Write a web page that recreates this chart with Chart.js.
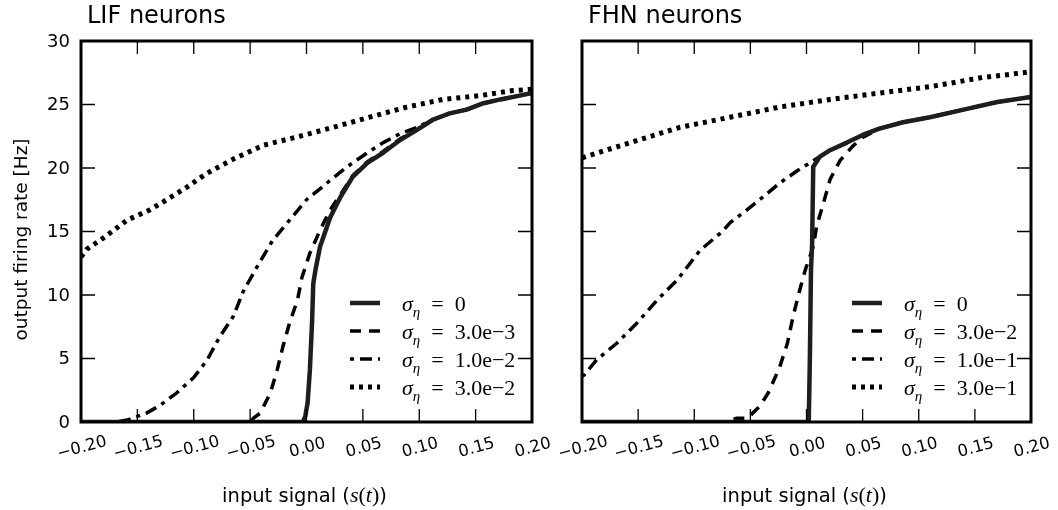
<!DOCTYPE html>
<html lang="en">
  <head>
    <meta charset="UTF-8" />
    <title>Output firing rate vs input signal</title>
    <style>
      body {
        margin: 0;
        background: #fff;
      }
      canvas {
        position: absolute;
        top: 0;
      }
      #lifChart {
        left: 0;
      }
      #fhnChart {
        left: 545px;
      }
    </style>
  </head>
  <body>
    <canvas id="lifChart" width="570" height="510"></canvas>
    <canvas id="fhnChart" width="513" height="510"></canvas>
    <script src="https://cdn.jsdelivr.net/npm/chart.js"></script>
    <script>
      // tick values shared by both panels
      const xTicks = [-0.2, -0.15, -0.1, -0.05, 0, 0.05, 0.1, 0.15, 0.2];
      const yTicks = [0, 5, 10, 15, 20, 25, 30];

      // LIF panel
      const lifSigmas = ["0", "3.0e\u22123", "1.0e\u22122", "3.0e\u22122"];
      const lifX0 = [-0.2, -0.003, -0.001, 0.001, 0.003, 0.005, 0.006, 0.008, 0.012, 0.021, 0.03, 0.041, 0.054, 0.068, 0.083, 0.098, 0.112, 0.127, 0.142, 0.157, 0.172, 0.189, 0.2];
      const lifY0 = [0, 0, 0.5, 1.5, 4.1, 8, 10.9, 12, 13.8, 16.1, 17.7, 19.3, 20.4, 21.2, 22.2, 23.0, 23.8, 24.3, 24.6, 25.1, 25.4, 25.7, 25.9];
      const lifX1 = [-0.2, -0.05, -0.047, -0.041, -0.032, -0.026, -0.021, -0.015, -0.008, -0.004, 0.003, 0.012, 0.021, 0.03, 0.041, 0.054, 0.068, 0.083, 0.098, 0.112, 0.127, 0.142, 0.157, 0.172, 0.189, 0.2];
      const lifY1 = [0, 0, 0.3, 0.7, 2.3, 4.1, 5.9, 7.8, 9.6, 11.4, 13.3, 15.1, 16.7, 17.9, 19.4, 20.5, 21.3, 22.3, 23.0, 23.8, 24.3, 24.6, 25.1, 25.4, 25.7, 25.9];
      const lifX2 = [-0.2, -0.17, -0.159, -0.142, -0.13, -0.115, -0.1, -0.088, -0.077, -0.065, -0.056, -0.044, -0.03, -0.015, 0.0, 0.018, 0.036, 0.054, 0.068, 0.083, 0.098, 0.112, 0.127, 0.142, 0.157, 0.172, 0.189, 0.2];
      const lifY2 = [0, 0, 0.15, 0.7, 1.3, 2.3, 3.5, 4.9, 6.7, 8.3, 10.3, 12.2, 14.3, 15.9, 17.5, 18.8, 20.1, 21.2, 22.0, 22.7, 23.2, 23.8, 24.3, 24.6, 25.1, 25.4, 25.7, 25.9];
      const lifX3 = [-0.2, -0.195, -0.18, -0.159, -0.139, -0.124, -0.106, -0.088, -0.065, -0.038, -0.006, 0.0235, 0.056, 0.089, 0.121, 0.154, 0.183, 0.2];
      const lifY3 = [13.0, 13.6, 14.5, 15.9, 16.7, 17.5, 18.5, 19.6, 20.7, 21.8, 22.5, 23.2, 24.0, 24.8, 25.4, 25.7, 26.1, 26.2];

      // FHN panel
      const fhnSigmas = ["0", "3.0e\u22122", "1.0e\u22121", "3.0e\u22121"];
      const fhnX0 = [-0.2, 0.002, 0.003, 0.004, 0.005, 0.006, 0.012, 0.021, 0.036, 0.05, 0.065, 0.086, 0.11, 0.14, 0.17, 0.2];
      const fhnY0 = [0, 0, 5, 12, 14, 20.1, 20.9, 21.4, 22.0, 22.6, 23.1, 23.6, 24.0, 24.6, 25.2, 25.6];
      const fhnX1 = [-0.2, -0.072, -0.062, -0.052, -0.048, -0.042, -0.034, -0.024, -0.017, -0.012, -0.006, -0.001, 0.006, 0.009, 0.015, 0.021, 0.03, 0.041, 0.05, 0.065, 0.086, 0.11, 0.14, 0.17, 0.2];
      const fhnY1 = [0, 0, 0.3, 0.3, 0.7, 1.2, 2.3, 4.3, 6.2, 8.3, 10.4, 12.0, 13.8, 15.4, 17.2, 19.1, 20.6, 21.7, 22.4, 23.1, 23.6, 24.0, 24.6, 25.2, 25.6];
      const fhnX2 = [-0.2, -0.198, -0.187, -0.169, -0.151, -0.133, -0.115, -0.095, -0.075, -0.068, -0.053, -0.039, -0.024, -0.008, 0.003, 0.012, 0.021, 0.036, 0.05, 0.065, 0.086, 0.11, 0.14, 0.17, 0.2];
      const fhnY2 = [3.6, 3.7, 4.9, 6.2, 7.8, 9.6, 11.2, 13.5, 15.0, 15.7, 16.7, 17.7, 18.8, 19.8, 20.4, 20.9, 21.4, 22.0, 22.6, 23.1, 23.6, 24.0, 24.6, 25.2, 25.6];
      const fhnX3 = [-0.2, -0.157, -0.113, -0.068, -0.024, 0.021, 0.065, 0.11, 0.155, 0.193, 0.2];
      const fhnY3 = [20.8, 22.0, 23.2, 24.0, 24.8, 25.4, 25.9, 26.4, 27.1, 27.5, 27.6];

      const lineStyles = [
        { borderWidth: 4.5, borderDash: [], borderColor: "#1e1e1e" },
        { borderWidth: 3.5, borderDash: [11, 8], borderColor: "#000" },
        { borderWidth: 3.5, borderDash: [4, 6, 12, 6], borderColor: "#000" },
        { borderWidth: 5, borderDash: [4, 5], borderColor: "#000" },
      ];

      function points(xs, ys) {
        return xs.map((x, i) => ({ x: x, y: ys[i] }));
      }

      function makeDatasets(series) {
        return series.map((s, i) => ({
          data: points(s[0], s[1]),
          borderColor: lineStyles[i].borderColor,
          borderWidth: lineStyles[i].borderWidth,
          borderDash: lineStyles[i].borderDash,
          borderCapStyle: "butt",
          borderJoinStyle: "round",
          pointRadius: 0,
          tension: 0,
          fill: false,
        }));
      }

      function tickText(v) {
        return v.toFixed(2).replace("-", "\u2212");
      }

      // draws a list of text runs (font can change for math parts)
      function drawRuns(ctx, runs, x, y, align) {
        let total = 0;
        runs.forEach((r) => {
          ctx.font = r.font;
          r.w = ctx.measureText(r.t).width;
          total += r.w;
        });
        let cx = align === "center" ? x - total / 2 : x;
        ctx.textAlign = "left";
        runs.forEach((r) => {
          ctx.font = r.font;
          ctx.fillText(r.t, cx, y + (r.dy || 0));
          cx += r.w;
        });
      }

      const sans = '"DejaVu Sans", sans-serif';
      const serif = '"Liberation Serif", serif';

      const decorPlugin = {
        id: "decor",
        afterDraw(chart, args, opts) {
          const ctx = chart.ctx;
          const area = chart.chartArea;
          const xs = chart.scales.x;
          const ys = chart.scales.y;
          ctx.save();
          ctx.fillStyle = "#000";
          ctx.strokeStyle = "#000";
          ctx.setLineDash([]);

          // inward ticks on all four sides
          ctx.lineWidth = 1.3;
          ctx.beginPath();
          xTicks.forEach((v) => {
            const px = xs.getPixelForValue(v);
            ctx.moveTo(px, area.bottom);
            ctx.lineTo(px, area.bottom - 13);
            ctx.moveTo(px, area.top);
            ctx.lineTo(px, area.top + 13);
          });
          yTicks.forEach((v) => {
            const py = ys.getPixelForValue(v);
            ctx.moveTo(area.left, py);
            ctx.lineTo(area.left + 14, py);
            ctx.moveTo(area.right, py);
            ctx.lineTo(area.right - 14, py);
          });
          ctx.stroke();

          ctx.lineWidth = 3;
          ctx.strokeRect(area.left, area.top, area.right - area.left, area.bottom - area.top);

          // y tick labels (left panel only)
          if (opts.yLabels) {
            ctx.font = "18px " + sans;
            ctx.textAlign = "right";
            ctx.textBaseline = "middle";
            yTicks.forEach((v) => {
              ctx.fillText(String(v), area.left - 11, ys.getPixelForValue(v) + 1);
            });
            ctx.save();
            ctx.translate(22, (area.top + area.bottom) / 2 + 8);
            ctx.rotate(-Math.PI / 2);
            ctx.font = "18.5px " + sans;
            ctx.textAlign = "center";
            ctx.textBaseline = "middle";
            ctx.fillText("output firing rate [Hz]", 0, 0);
            ctx.restore();
          }

          // rotated x tick labels
          ctx.font = "16.5px " + sans;
          ctx.textAlign = "center";
          ctx.textBaseline = "middle";
          xTicks.forEach((v) => {
            ctx.save();
            ctx.translate(xs.getPixelForValue(v) + 1, area.bottom + 26);
            ctx.rotate((-15 * Math.PI) / 180);
            ctx.fillText(tickText(v), 0, 0);
            ctx.restore();
          });

          // x axis title with math part
          ctx.textBaseline = "alphabetic";
          const mid = (area.left + area.right) / 2;
          drawRuns(
            ctx,
            [
              { t: "input signal (", font: "19.5px " + sans },
              { t: "s", font: "italic 22px " + serif },
              { t: "(", font: "22px " + serif },
              { t: "t", font: "italic 22px " + serif },
              { t: ")", font: "22px " + serif },
              { t: ")", font: "19.5px " + sans },
            ],
            mid - 2,
            502,
            "center"
          );

          // panel title
          ctx.font = "24px " + sans;
          ctx.textAlign = "left";
          ctx.fillText(opts.title, area.left + 6, 23);

          // legend inside plot, lower right
          const lx = area.left + opts.legendX;
          chart.data.datasets.forEach((ds, i) => {
            const ry = 303 + i * 28;
            ctx.save();
            ctx.lineWidth = ds.borderWidth;
            ctx.strokeStyle = ds.borderColor;
            ctx.lineCap = "butt";
            ctx.setLineDash(ds.borderDash);
            ctx.beginPath();
            ctx.moveTo(lx, ry);
            ctx.lineTo(lx + 30, ry);
            ctx.stroke();
            ctx.restore();
            drawRuns(
              ctx,
              [
                { t: "\u03c3", font: "italic 22px " + serif },
                { t: "\u03b7", font: "italic 15px " + serif, dy: 6 },
                { t: "\u2002=\u2002" + opts.sigmas[i], font: "22px " + serif },
              ],
              lx + 52,
              ry + 8,
              "left"
            );
          });
          ctx.restore();
        },
      };

      function makeChart(id, series, padding, opts) {
        return new Chart(document.getElementById(id), {
          type: "line",
          data: { datasets: makeDatasets(series) },
          options: {
            responsive: false,
            animation: false,
            devicePixelRatio: 1,
            layout: { padding: padding },
            scales: {
              x: { type: "linear", min: -0.2, max: 0.2, display: false },
              y: { type: "linear", min: 0, max: 30, display: false },
            },
            plugins: {
              legend: { display: false },
              tooltip: { enabled: false },
              decor: opts,
            },
          },
          plugins: [decorPlugin],
        });
      }

      makeChart(
        "lifChart",
        [
          [lifX0, lifY0],
          [lifX1, lifY1],
          [lifX2, lifY2],
          [lifX3, lifY3],
        ],
        { left: 81, right: 38, top: 41, bottom: 88 },
        { title: "LIF neurons", sigmas: lifSigmas, yLabels: true, legendX: 269 }
      );

      makeChart(
        "fhnChart",
        [
          [fhnX0, fhnY0],
          [fhnX1, fhnY1],
          [fhnX2, fhnY2],
          [fhnX3, fhnY3],
        ],
        { left: 37, right: 27, top: 41, bottom: 88 },
        { title: "FHN neurons", sigmas: fhnSigmas, yLabels: false, legendX: 270 }
      );
    </script>
  </body>
</html>
